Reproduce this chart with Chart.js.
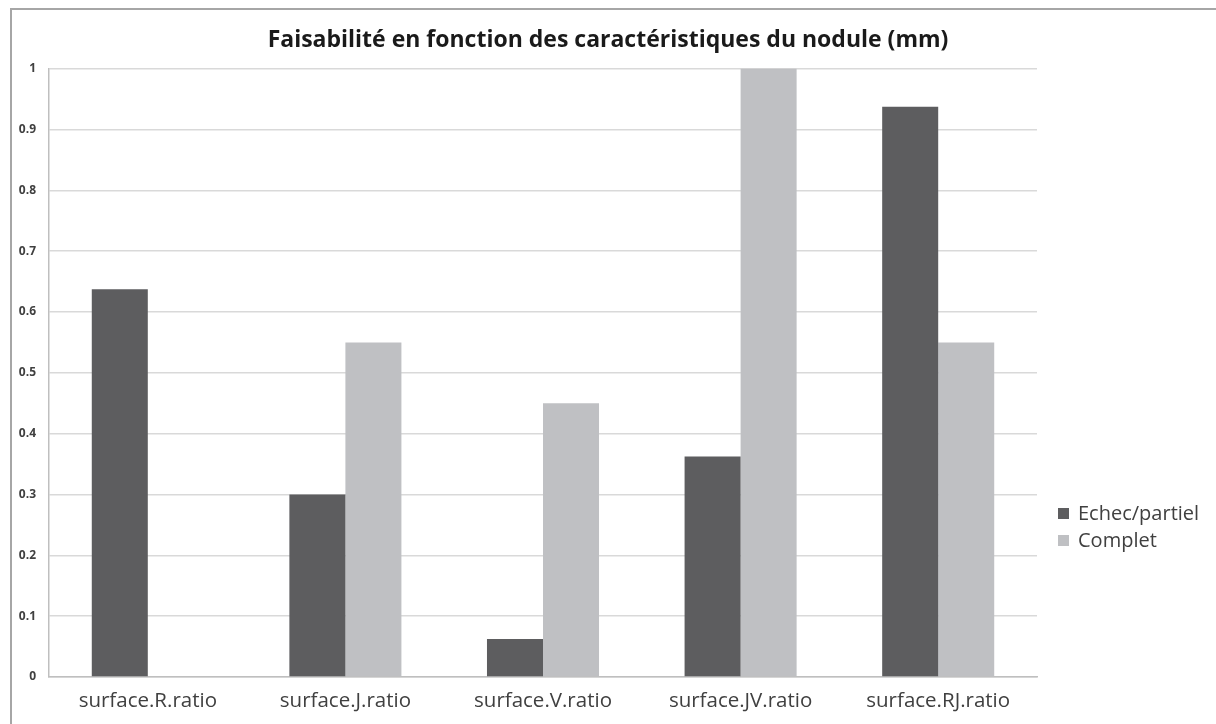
<!DOCTYPE html>
<html lang="fr">
<head>
<meta charset="utf-8">
<title>Faisabilité en fonction des caractéristiques du nodule</title>
<script src="https://cdn.jsdelivr.net/npm/chart.js@4/dist/chart.umd.min.js"></script>
<style>
  html, body { margin: 0; padding: 0; background: #fff; }
  .wrap { position: relative; width: 1216px; height: 724px; overflow: hidden; }
  .frame { position: absolute; left: 10px; top: 8px; right: -4px; bottom: -4px;
           border-top: 2px solid #a6a6a6; border-left: 2px solid #a6a6a6; pointer-events: none; }
  canvas { position: absolute; left: 0; top: 0; }
</style>
</head>
<body>
<div class="wrap">
  <canvas id="chart" width="1216" height="724"></canvas>
  <div class="frame"></div>
</div>
<script>
// Ratios per surface type, split by outcome.
const categories = ['surface.R.ratio', 'surface.J.ratio', 'surface.V.ratio', 'surface.JV.ratio', 'surface.RJ.ratio'];
const echecPartiel = [0.6375, 0.3, 0.0625, 0.3625, 0.9375];
const complet = [0, 0.55, 0.45, 1, 0.55];
const seriesNames = ['Echec/partiel', 'Complet'];
const yTicks = [0, 0.1, 0.2, 0.3, 0.4, 0.5, 0.6, 0.7, 0.8, 0.9, 1];

const FONT = '"Open Sans", "DejaVu Sans", sans-serif';
const DARK = '#5d5d5f';
const LIGHT = '#bfc0c3';
const TEXT = '#404040';

// Legend sits to the right, below the middle of the plot — drawn by hand.
const sideLegend = {
  id: 'sideLegend',
  afterDraw(chart) {
    const { ctx } = chart;
    ctx.save();
    ctx.font = `20px ${FONT}`;
    ctx.textBaseline = 'middle';
    chart.data.datasets.forEach((ds, i) => {
      const y = 513 + i * 27;
      ctx.fillStyle = ds.backgroundColor;
      ctx.fillRect(1058, y - 5, 11, 11);
      ctx.fillStyle = TEXT;
      ctx.fillText(ds.label, 1078, y + 1);
    });
    ctx.restore();
  },
};

new Chart(document.getElementById('chart'), {
  type: 'bar',
  data: {
    labels: categories,
    datasets: [
      { label: seriesNames[0], data: echecPartiel, backgroundColor: DARK },
      { label: seriesNames[1], data: complet, backgroundColor: LIGHT },
    ],
  },
  options: {
    responsive: false,
    animation: false,
    datasets: { bar: { categoryPercentage: 0.567, barPercentage: 1 } },
    layout: { padding: 0 },
    plugins: {
      legend: { display: false },
      tooltip: { enabled: false },
      title: {
        display: true,
        text: 'Faisabilité en fonction des caractéristiques du nodule (mm)',
        color: '#1a1a1a',
        font: { family: FONT, size: 23, weight: 'bold', lineHeight: 1.2 },
        padding: { top: 27, bottom: 14 },
      },
    },
    scales: {
      x: {
        grid: { display: false, drawTicks: false },
        border: { color: '#bfbfbf', width: 1.5 },
        ticks: { color: TEXT, font: { family: FONT, size: 20.5 }, padding: 12, maxRotation: 0 },
        afterFit: (scale) => { scale.height = 47; },
      },
      y: {
        min: 0, max: 1,
        afterBuildTicks: (scale) => { scale.ticks = yTicks.map((v) => ({ value: v })); },
        grid: { color: '#d9d9d9', lineWidth: 1.5, drawTicks: false },
        border: { color: '#bfbfbf', width: 1.5 },
        ticks: { color: TEXT, font: { family: FONT, size: 12, weight: 'bold' }, padding: 13,
                 callback: (v) => String(v) },
        afterFit: (scale) => { scale.width = 49; },
      },
      // empty right-hand box reserving room for the legend
      side: {
        type: 'linear', position: 'right', display: true,
        grid: { display: false, drawTicks: false },
        border: { display: false },
        ticks: { display: false },
        afterFit: (scale) => { scale.width = 179; },
      },
    },
  },
  plugins: [sideLegend],
});
</script>
</body>
</html>
